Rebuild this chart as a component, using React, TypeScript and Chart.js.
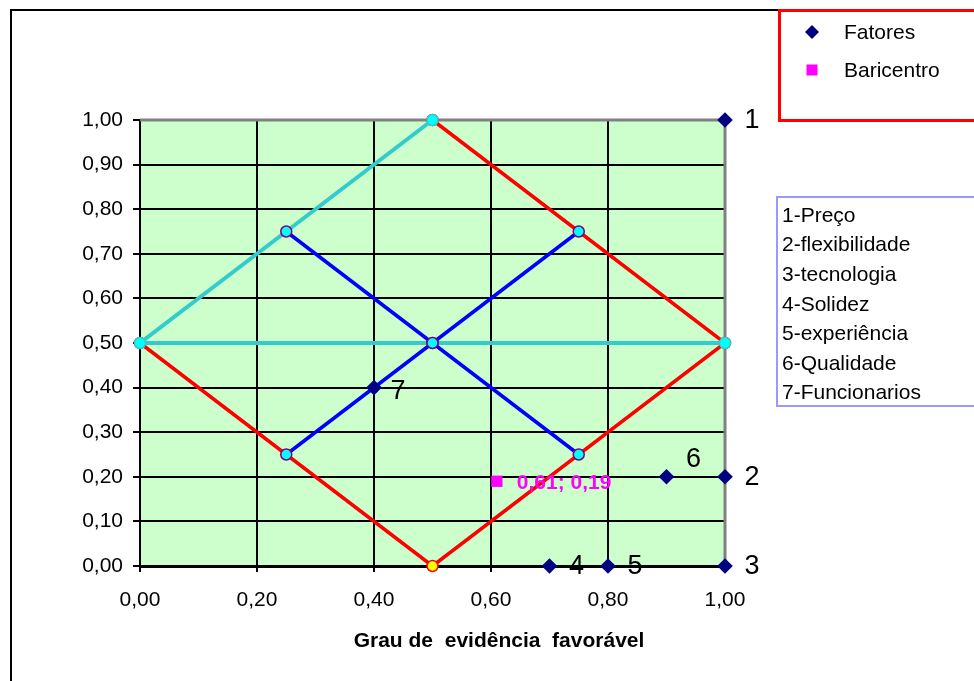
import React, { useEffect, useRef } from "react";
import { Chart, registerables } from "chart.js";

Chart.register(...registerables);

// Fatores (numbered factors)
const factorX = [1, 1, 1, 0.7, 0.8, 0.9, 0.4];
const factorY = [1, 0.2, 0, 0, 0, 0.2, 0.4];
const factorLabels = ["1", "2", "3", "4", "5", "6", "7"];
const factorNames = [
  "1-Preço",
  "2-flexibilidade",
  "3-tecnologia",
  "4-Solidez",
  "5-experiência",
  "6-Qualidade",
  "7-Funcionarios",
];

// Baricentro
const baryX = [0.61];
const baryY = [0.19];

// Reference lines of the decision diagram
const outerX = [0.5, 1, 0.5, 0];
const outerY = [1, 0.5, 0, 0.5];
const cyanX = [0.5, 0, 1];
const cyanY = [1, 0.5, 0.5];
const diagAX = [0.25, 0.5, 0.75];
const diagAY = [0.75, 0.5, 0.25];
const diagBX = [0.25, 0.5, 0.75];
const diagBY = [0.25, 0.5, 0.75];

const xTitle = "Grau de  evidência  favorável";
const legendNames = ["Fatores", "Baricentro"];

const FONT = "'Liberation Sans', Arial, sans-serif";
const fmt = (v: number) => v.toFixed(2).replace(".", ",");
const pts = (xs: number[], ys: number[]) => xs.map((x, i) => ({ x, y: ys[i] }));

const NAVY = "#000080";
const MAGENTA = "#FF00FF";

const decorations = {
  id: "decorations",
  beforeDraw(chart: any) {
    const { ctx, chartArea: a, width, height } = chart;
    ctx.save();
    ctx.fillStyle = "#FFFFFF";
    ctx.fillRect(0, 0, width, height);
    ctx.fillStyle = "#CCFFCC";
    ctx.fillRect(a.left, a.top, a.right - a.left, a.bottom - a.top);
    ctx.restore();
  },
  beforeDatasetsDraw(chart: any) {
    const { ctx, chartArea: a } = chart;
    ctx.save();
    ctx.strokeStyle = "#808080";
    ctx.lineWidth = 3;
    ctx.beginPath();
    ctx.moveTo(a.left, a.top);
    ctx.lineTo(a.right, a.top);
    ctx.lineTo(a.right, a.bottom);
    ctx.stroke();
    ctx.restore();
  },
  afterDraw(chart: any) {
    const { ctx, width, height } = chart;
    ctx.save();

    // point labels for the factors
    const meta = chart.getDatasetMeta(0);
    ctx.fillStyle = "#000";
    ctx.font = `27px ${FONT}`;
    ctx.textAlign = "center";
    ctx.textBaseline = "middle";
    const nudge: Record<number, [number, number]> = { 5: [27, -17], 6: [24, 4] };
    meta.data.forEach((p: any, i: number) => {
      const [dx, dy] = nudge[i] || [27, 1];
      ctx.fillText(factorLabels[i], p.x + dx, p.y + dy);
    });

    // baricentro value label
    const bm = chart.getDatasetMeta(1);
    ctx.fillStyle = MAGENTA;
    ctx.font = `bold 21px ${FONT}`;
    ctx.textAlign = "left";
    bm.data.forEach((p: any, i: number) => {
      ctx.fillText(`${fmt(baryX[i])}; ${fmt(baryY[i])}`, p.x + 20, p.y + 2);
    });

    // axis title
    ctx.fillStyle = "#000";
    ctx.font = `bold 21px ${FONT}`;
    ctx.textAlign = "center";
    ctx.fillText(xTitle, 499, 641);

    // outer frame
    ctx.strokeStyle = "#000";
    ctx.lineWidth = 2;
    ctx.beginPath();
    ctx.moveTo(11, height);
    ctx.lineTo(11, 10);
    ctx.lineTo(width, 10);
    ctx.stroke();

    // legend
    ctx.fillStyle = "#FFFFFF";
    ctx.fillRect(779, 10, width - 779, 111);
    ctx.strokeStyle = "#FF0000";
    ctx.lineWidth = 3;
    ctx.strokeRect(779.5, 10.5, width, 110);
    ctx.fillStyle = NAVY;
    ctx.beginPath();
    ctx.moveTo(812, 25);
    ctx.lineTo(819, 32);
    ctx.lineTo(812, 39);
    ctx.lineTo(805, 32);
    ctx.closePath();
    ctx.fill();
    ctx.fillStyle = MAGENTA;
    ctx.fillRect(806.5, 64.5, 11, 11);
    ctx.fillStyle = "#000";
    ctx.font = `21px ${FONT}`;
    ctx.textAlign = "left";
    ctx.fillText(legendNames[0], 844, 33);
    ctx.fillText(legendNames[1], 844, 71);

    // factor names box
    ctx.strokeStyle = "#9999FF";
    ctx.lineWidth = 2;
    ctx.strokeRect(777, 197, width, 209);
    ctx.fillStyle = "#000";
    ctx.font = `21px ${FONT}`;
    factorNames.forEach((t, i) => {
      ctx.fillText(t, 782, 216 + i * 29.6);
    });

    ctx.restore();
  },
};

export default function App() {
  const ref = useRef<HTMLCanvasElement>(null);

  useEffect(() => {
    document.body.style.margin = "0";
    const canvas = ref.current!;
    const markerLine = {
      showLine: true,
      clip: false as any,
      pointStyle: "circle" as const,
      pointRadius: 5.5,
      pointHoverRadius: 5.5,
      pointBorderWidth: 1.5,
    };
    const chart = new Chart(canvas, {
      type: "scatter",
      data: {
        datasets: [
          {
            label: legendNames[0],
            data: pts(factorX, factorY),
            pointStyle: "rectRot",
            pointRadius: 7.8,
            pointHoverRadius: 7.8,
            backgroundColor: NAVY,
            borderColor: NAVY,
            borderWidth: 0,
            showLine: false,
            clip: false as any,
            order: 1,
          },
          {
            label: legendNames[1],
            data: pts(baryX, baryY),
            pointStyle: "rect",
            pointRadius: 8,
            pointHoverRadius: 8,
            backgroundColor: MAGENTA,
            borderColor: MAGENTA,
            borderWidth: 0,
            showLine: false,
            clip: false as any,
            order: 2,
          },
          {
            label: "diagA",
            data: pts(diagAX, diagAY),
            ...markerLine,
            borderColor: "#0000FF",
            borderWidth: 3.5,
            pointBackgroundColor: "#00FFFF",
            pointBorderColor: "#800080",
            order: 3,
          },
          {
            label: "diagB",
            data: pts(diagBX, diagBY),
            ...markerLine,
            borderColor: "#0000FF",
            borderWidth: 3.5,
            pointBackgroundColor: "#00FFFF",
            pointBorderColor: "#800080",
            order: 3,
          },
          {
            label: "cyan",
            data: pts(cyanX, cyanY),
            ...markerLine,
            borderColor: "#33CCCC",
            borderWidth: 4,
            pointBackgroundColor: "#00FFFF",
            pointBorderColor: "#33CCCC",
            order: 4,
          },
          {
            label: "outer",
            data: pts(outerX, outerY),
            ...markerLine,
            borderColor: "#FF0000",
            borderWidth: 3.5,
            pointBackgroundColor: "#FFFF00",
            pointBorderColor: "#FF0000",
            order: 5,
          },
        ],
      },
      options: {
        responsive: false,
        animation: false,
        events: [],
        layout: { padding: { left: 0, top: 120, right: 249, bottom: 0 } },
        plugins: {
          legend: { display: false },
          tooltip: { enabled: false },
        },
        scales: {
          x: {
            type: "linear",
            min: 0,
            max: 1,
            afterFit: (s: any) => {
              s.height = 115;
            },
            ticks: {
              stepSize: 0.2,
              color: "#000",
              padding: 16,
              font: { family: FONT, size: 21 },
              callback: (v: any) => fmt(Number(v)),
            },
            grid: { color: "#000", lineWidth: 2, tickLength: 6 },
            border: { color: "#000", width: 3 },
          },
          y: {
            type: "linear",
            min: 0,
            max: 1,
            afterFit: (s: any) => {
              s.width = 140;
            },
            ticks: {
              stepSize: 0.1,
              color: "#000",
              padding: 10,
              font: { family: FONT, size: 21 },
              callback: (v: any) => fmt(Number(v)),
            },
            grid: { color: "#000", lineWidth: 2, tickLength: 7 },
            border: { color: "#000", width: 2 },
          },
        },
      },
      plugins: [decorations],
    });
    return () => chart.destroy();
  }, []);

  return (
    <div style={{ width: 974, height: 681 }}>
      <canvas ref={ref} width={974} height={681} style={{ display: "block" }} />
    </div>
  );
}
